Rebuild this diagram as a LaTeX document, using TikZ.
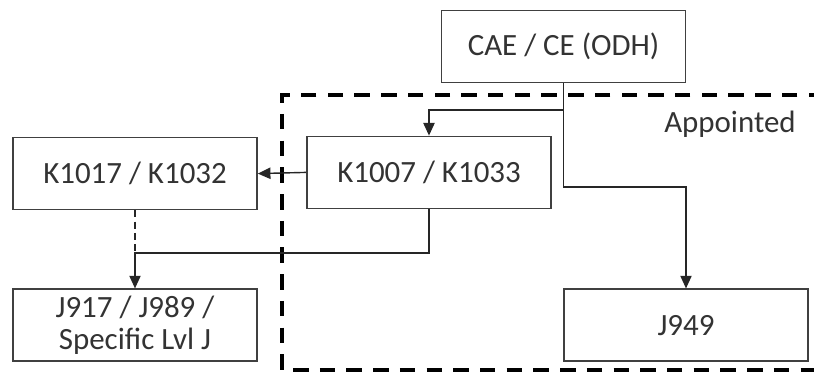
\documentclass[tikz,border=0pt]{standalone}
\usepackage{fontspec}
\setmainfont{Carlito}
\usepackage{tikz}
\usetikzlibrary{arrows.meta,positioning,calc}

\begin{document}
\begin{tikzpicture}[
    block/.style={draw=black!75, line width=1.1pt, minimum width=6.1cm, minimum height=1.8cm, align=center, font=\fontsize{22}{25}\selectfont, text=black!80, inner sep=2pt},
    arr/.style={-{Triangle[length=9pt,width=8pt]}, line width=1pt, black!85},
    link/.style={line width=1pt, black!85}
  ]
    \useasboundingbox (0,0) rectangle (20.35,9.3);

    % appointed region
    \draw[line width=2.6pt, dash pattern=on 11pt off 8pt] (20.6,6.925) -- (7.05,6.925) -- (7.05,0.05) -- (20.6,0.05);
    \node[font=\fontsize{22}{25}\selectfont, text=black!80] (appt) at (18.25, 6.2) {Appointed};

    \node[block] (cae)   at (14.09, 8.14) {CAE / CE (ODH)};
    \node[block] (k1017) at (3.375, 4.96) {K1017 / K1032};
    \node[block] (k1007) at (10.725, 4.99) {K1007 / K1033};
    \node[block] (j917)  at (3.375, 1.17) {J917 / J989 /\\[-2pt] Specific Lvl J};
    \node[block] (j949)  at (17.15, 1.17) {J949};

    \coordinate (split) at (14.09, 6.55);
    \coordinate (jbend) at (14.09, 4.625);
    \coordinate (merge) at (3.375, 2.975);

    \draw[link] (cae.south) -- (split);
    \draw[arr] (split) -| (k1007.north);
    \draw[arr] (split) -- (jbend) -| (j949.north);
    \draw[arr] (k1007.west) -- (k1017.east);
    \draw[arr] (k1007.south) |- (merge) -- (j917.north);
    \draw[link, dash pattern=on 5pt off 3pt] (k1017.south) -- (merge);
  \end{tikzpicture}
\end{document}
